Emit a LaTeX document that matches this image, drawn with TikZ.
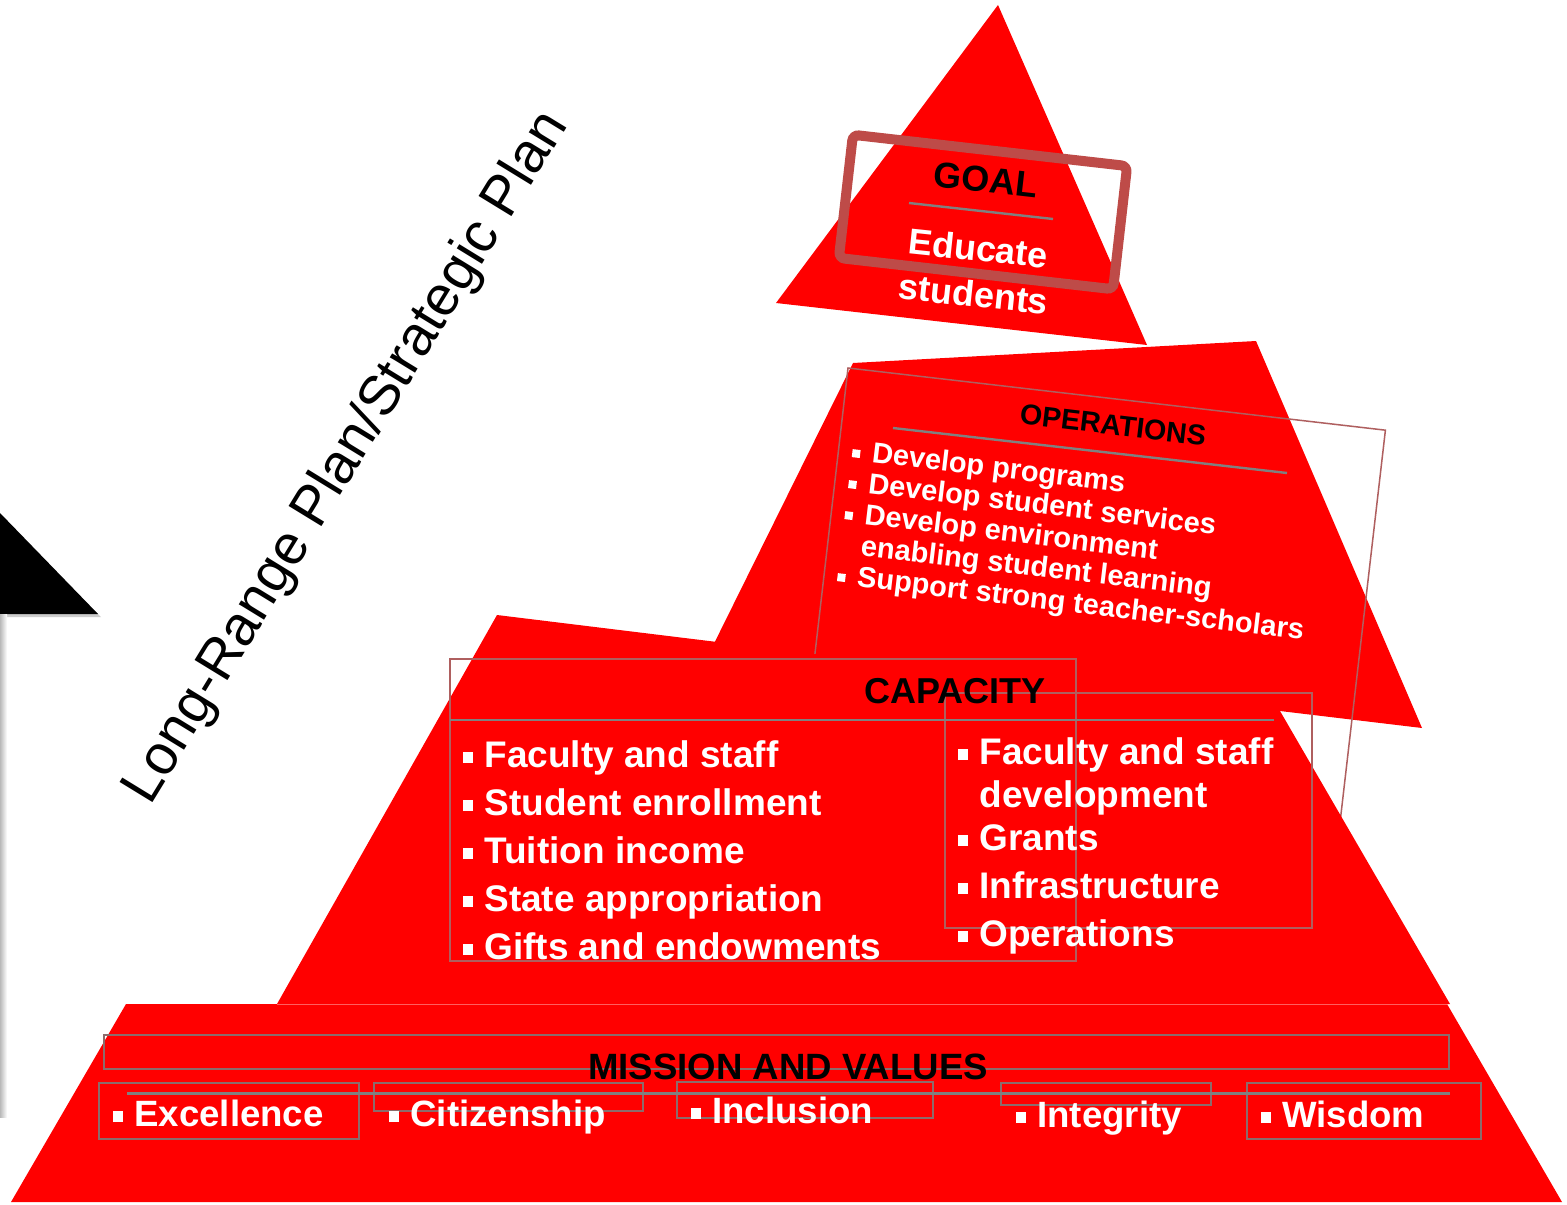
\documentclass[tikz,border=0pt]{standalone}
\usepackage{fontspec}
\setmainfont{Liberation Sans}
\definecolor{pred}{RGB}{255,0,0}
\definecolor{boxln}{RGB}{175,95,95}
\definecolor{boxgr}{RGB}{140,108,108}
\definecolor{sepln}{RGB}{128,128,128}
\definecolor{goalln}{RGB}{190,75,72}
\definecolor{seam}{RGB}{255,95,95}
\newcommand\bul{\rule[2pt]{5pt}{5.5pt}\hspace{5.5pt}}
\newcommand\obul{\rule[1.5pt]{4pt}{4pt}\hspace{6pt}}
\tikzset{
  redshape/.style={fill=pred, draw=none},
  framebox/.style={draw=boxln, line width=0.75pt},
  framegr/.style={draw=boxgr, line width=0.75pt},
  sepline/.style={draw=sepln, line width=1.2pt},
  wtxt/.style={text=white, font=\bfseries\fontsize{18.5}{22}\selectfont, inner sep=0, anchor=base west},
  btxt/.style={text=black, font=\bfseries\fontsize{18}{22}\selectfont, inner sep=0},
  otxt/.style={text=white, font=\bfseries\fontsize{14.5}{17}\selectfont, inner sep=0, anchor=base west, rotate=-6.8}
}
\begin{document}
\begin{tikzpicture}[x=0.5pt, y=-0.5pt]
\useasboundingbox (0,0) rectangle (1567,1204);
\fill[white] (0,0) rectangle (1567,1204);

% black arrow at the left edge
\fill[gray!40] (0,517) -- (101,617) -- (0,617) -- cycle;
\fill[black] (0,513) -- (98,614) -- (0,614) -- cycle;
\shade[left color=gray!55, right color=white] (0,614) rectangle (7,1117);

% slanted title
\node[font=\fontsize{28}{33}\selectfont, rotate=58.5, inner sep=0] (lrp) at (347,458) {Long-Range Plan/Strategic Plan};

% GOAL
\fill[redshape] (998,5) -- (1147,345) -- (776,303) -- cycle;
\node[draw=goalln, line width=5pt, rounded corners=3pt, minimum width=138pt, minimum height=62pt, rotate=-6.5, inner sep=0] (goalbox) at (983,212) {};
\node[btxt, rotate=-6.5] (goal) at (986,180) {GOAL};
\coordinate (gsa) at (909,203);
\coordinate (gsb) at (1053,219);
\draw[sepline] (gsa) -- (gsb);
\node[text=white, font=\bfseries\fontsize{18}{23}\selectfont, align=center, inner sep=0, rotate=-6] (educ) at (976,271) {Educate\\students};

% OPERATIONS
\fill[redshape] (853,363) -- (1256,341) -- (1422,728) -- (1280,711) -- (1250,760) -- (691,690) -- cycle;
\node[framebox, minimum width=270.5pt, minimum height=230pt, anchor=north west, rotate=-6.6, inner sep=0, outer sep=0] (opsbox) at (848,368) {};
\node[btxt, font=\bfseries\fontsize{14.3}{17}\selectfont, rotate=-6.8] (opstitle) at (1113,425) {OPERATIONS};
\coordinate (osa) at (893,428);
\coordinate (osb) at (1287,473);
\draw[sepline] (osa) -- (osb);
\node[otxt] (op1) at (851,460) {\obul Develop programs};
\node[otxt] (op2) at (847.3,491) {\obul Develop student services};
\node[otxt] (op3) at (843.6,522) {\obul Develop environment};
\node[otxt] (op4) at (839.9,553) {\hphantom{\obul}enabling student learning};
\node[otxt] (op5) at (836.2,584) {\obul Support strong teacher-scholars};

% CAPACITY
\fill[redshape] (497,615) -- (1280,711) -- (1450,1004) -- (277,1004) -- cycle;
\draw[framebox] (450,659) rectangle (1076,961);
\draw[framebox] (945,693) rectangle (1312,928);
\coordinate (csa) at (450,720);
\coordinate (csb) at (1274,720);
\draw[sepline] (csa) -- (csb);
\node[btxt, anchor=base] (captitle) at (955,703) {CAPACITY};
\node[wtxt] (c1) at (463,767) {\bul Faculty and staff};
\node[wtxt] (c2) at (463,815) {\bul Student enrollment};
\node[wtxt] (c3) at (463,863) {\bul Tuition income};
\node[wtxt] (c4) at (463,911) {\bul State appropriation};
\node[wtxt] (c5) at (463,959) {\bul Gifts and endowments};
\node[wtxt] (d1) at (958,764) {\bul Faculty and staff};
\node[wtxt] (d1b) at (979,807) {development};
\node[wtxt] (d2) at (958,850) {\bul Grants};
\node[wtxt] (d3) at (958,898) {\bul Infrastructure};
\node[wtxt] (d4) at (958,946) {\bul Operations};

% MISSION AND VALUES
\fill[redshape] (126,1004) -- (1447,1004) -- (1562,1202) -- (11,1202) -- cycle;
\draw[seam, line width=0.5pt] (277,1004) -- (1447,1004);
\draw[framegr] (104,1035) rectangle (1449,1069);
\draw[framegr] (99,1083) rectangle (359,1139);
\draw[framegr] (374,1083) rectangle (643,1111);
\draw[framegr] (677,1082) rectangle (933,1118);
\draw[framegr] (1001,1083) rectangle (1211,1105);
\draw[framegr] (1247,1083) rectangle (1481,1139);
\coordinate (msa) at (127,1093);
\coordinate (msb) at (1450,1093);
\draw[sepline, line width=1.5pt] (msa) -- (msb);
\node[btxt, font=\bfseries\fontsize{18.3}{22}\selectfont, anchor=base] (mtitle) at (788,1079) {MISSION AND VALUES};
\node[wtxt, font=\bfseries\fontsize{18.3}{22}\selectfont] (v1) at (113,1126) {\bul Excellence};
\node[wtxt, font=\bfseries\fontsize{18.3}{22}\selectfont] (v2) at (389,1126) {\bul Citizenship};
\node[wtxt, font=\bfseries\fontsize{18.3}{22}\selectfont] (v3) at (691,1123) {\bul Inclusion};
\node[wtxt, font=\bfseries\fontsize{18.3}{22}\selectfont] (v4) at (1016,1127) {\bul Integrity};
\node[wtxt, font=\bfseries\fontsize{18.3}{22}\selectfont] (v5) at (1261,1127) {\bul Wisdom};
\end{tikzpicture}
\end{document}
